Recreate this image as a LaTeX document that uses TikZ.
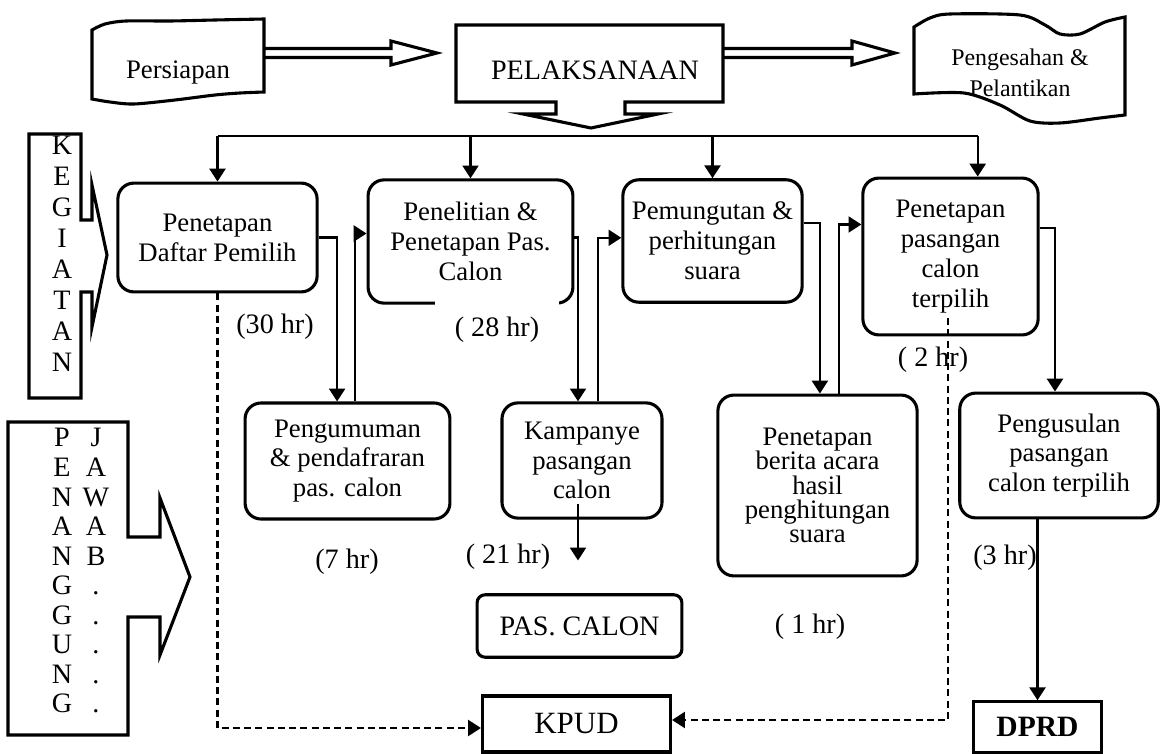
\documentclass[tikz,border=0pt]{standalone}
\usepackage{fontspec}
\setmainfont{Liberation Serif}
\usetikzlibrary{arrows.meta}
\begin{document}
\begin{tikzpicture}[x=0.0125cm,y=-0.0125cm]

\tikzstyle{bx} = [rectangle, rounded corners=0.2cm, line width=1.1pt, draw=black, align=center, inner sep=1pt, font=\fontsize{9.5}{10.6}\selectfont]
\tikzstyle{sq} = [rectangle, line width=1.1pt, draw=black, text centered]
\tikzstyle{lb} = [inner sep=1pt, font=\fontsize{10}{12}\selectfont]
\tikzstyle{shp} = [line width=1.1pt, draw=black]
\tikzstyle{arr} = [line width=0.75pt, -{Triangle[length=0.16cm,width=0.2cm]}]
\tikzstyle{dsh} = [arr, dash pattern=on 2.5pt off 1.5pt]

\useasboundingbox (0,0) rectangle (1162,754);

% top row
\draw[shp] plot[smooth] coordinates {(92,30) (105,24) (126,21) (170,21) (215,20) (264,19)} -- plot[smooth] coordinates {(264,92) (240,93) (215,95) (175,100) (134,104) (110,102) (92,99)} -- cycle;
\node (prs) at (178,73) [font=\fontsize{9.5}{11}\selectfont] {Persiapan};
\draw[shp] (264,48.5) -- (391,48.5) -- (391,41) -- (437,53) -- (391,65) -- (391,57.5) -- (264,57.5);

\draw[shp] (456,25) -- (723,25) -- (723,102) -- (625,102) -- (625,114) -- (658,114) -- (591,128) -- (523,114) -- (556,114) -- (556,102) -- (456,102) -- cycle;
\node (pel) at (595,70) [font=\fontsize{10}{12}\selectfont] {PELAKSANAAN};
\draw[shp] (723,48.5) -- (852,48.5) -- (852,41) -- (895,53) -- (852,65) -- (852,57.5) -- (723,57.5);

\draw[shp] plot[smooth] coordinates {(914,27) (930,18) (950,14) (1020,15) (1045,25) (1060,34) (1080,34) (1105,22) (1125,17)} -- plot[smooth] coordinates {(1125,115) (1100,118) (1060,123) (1030,121) (1000,105) (964,93) (914,94)} -- cycle;
\node (sah) at (1020,73) [align=center, font=\fontsize{8.5}{11}\selectfont] {Pengesahan \&\\Pelantikan};

% left side
\draw[shp] (29,134) -- (81,134) -- (81,220) -- (92,220) -- (92,185) -- (107,255) -- (92,327) -- (92,292) -- (81,292) -- (81,398) -- (29,398) -- cycle;
\node (keg) at (62,136) [anchor=north, align=center, inner sep=0pt, font=\fontsize{10}{11}\selectfont] {K\\E\\G\\I\\A\\T\\A\\N};

\draw[shp] (8,422) -- (128,422) -- (128,537) -- (160,537) -- (160,498) -- (190,577) -- (160,655) -- (160,617) -- (128,617) -- (128,735) -- (8,735) -- cycle;
\node (pen) at (62,428) [anchor=north, align=center, inner sep=0pt, font=\fontsize{10}{10.5}\selectfont] {P\\E\\N\\A\\N\\G\\G\\U\\N\\G};
\node (jwb) at (96,428) [anchor=north, align=center, inner sep=0pt, font=\fontsize{10}{10.5}\selectfont] {J\\A\\W\\A\\B\\.\\.\\.\\.\\.};

% kegiatan
\node (daftar) at (217.5,237.5) [bx, minimum width=2.49cm, minimum height=1.36cm] {Penetapan\\Daftar Pemilih};
\node (teliti) at (470.5,241.5) [bx, minimum width=2.56cm, minimum height=1.54cm] {Penelitian \&\\Penetapan Pas.\\Calon};
\node (pungut) at (712.5,241) [bx, minimum width=2.24cm, minimum height=1.53cm] {Pemungutan \&\\perhitungan\\suara};
\node (pilih) at (950.5,256.5) [bx, minimum width=2.19cm, minimum height=1.96cm] {Penetapan\\pasangan\\calon\\terpilih};
\node (umum) at (347.5,461) [bx, minimum width=2.56cm, minimum height=1.45cm] {Pengumuman\\\& pendafraran\\pas. calon};
\node (kamp) at (582,460.5) [bx, minimum width=2.0cm, minimum height=1.44cm] {Kampanye\\pasangan\\calon};
\node (berita) at (817.5,485.5) [bx, minimum width=2.49cm, minimum height=2.26cm, font={\fontsize{9.5}{8.6}\selectfont\lineskiplimit=-5pt}] {Penetapan\\berita acara\\hasil\\penghitungan\\suara};
\node (usul) at (1059,455.5) [bx, minimum width=2.48cm, minimum height=1.56cm] {Pengusulan\\pasangan\\calon terpilih};
\node (pascalon) at (579.5,626) [bx, rounded corners=0.1cm, minimum width=2.56cm, minimum height=0.78cm, font=\fontsize{10}{12}\selectfont] {PAS. CALON};
\node (kpud) at (576.5,724) [sq, minimum width=2.35cm, minimum height=0.7cm, font=\fontsize{11}{13}\selectfont] {KPUD};
\node (dprd) at (1037.5,727) [sq, minimum width=1.59cm, minimum height=0.63cm, font=\bfseries\fontsize{10.5}{12}\selectfont] {DPRD};

% lama waktu
\node (l30) at (275,327) [lb] {(30 hr)};
\node (l28) at (497,330) [lb, fill=white, minimum width=1.56cm, minimum height=0.76cm] {( 28 hr)};
\node (l2) at (933,360) [lb] {( 2 hr)};
\node (l7) at (347,562) [lb] {(7 hr)};
\node (l21) at (508,557) [lb] {( 21 hr)};
\node (l1) at (810,627) [lb] {( 1 hr)};
\node (l3) at (1005,558) [lb] {(3 hr)};

% garis
\coordinate (bus) at (0,136);
\coordinate (pin) at ([xshift=0.34cm]pilih.north);
\draw[line width=0.75pt] (daftar.north |- bus) -- (pin |- bus);
\draw[arr] (daftar.north |- bus) -- (daftar.north);
\draw[arr] (teliti.north |- bus) -- (teliti.north);
\draw[arr] (pungut.north |- bus) -- (pungut.north);
\draw[arr] (pin |- bus) -- (pin);

\draw[arr] (daftar.east) -| ([xshift=-0.13cm]umum.north);
\draw[arr] ([xshift=0.09cm]umum.north) |- ([yshift=0.1cm]teliti.west);
\draw[arr] ([yshift=0.05cm]teliti.east) -| ([xshift=-0.05cm]kamp.north);
\draw[arr] ([xshift=0.2cm]kamp.north) |- ([yshift=0.04cm]pungut.west);
\draw[arr] ([yshift=0.22cm]pungut.east) -| ([xshift=0.03cm]berita.north);
\draw[arr] ([xshift=0.27cm]berita.north) |- ([yshift=0.4cm]pilih.west);
\draw[arr] ([yshift=0.36cm]pilih.east) -| ([xshift=-0.05cm]usul.north);
\draw[arr] (usul.south -| dprd.north) -- (dprd.north);

\coordinate (pcend) at ([yshift=0.41cm]pascalon.north);
\draw[arr] ([xshift=-0.05cm,yshift=0.19cm]kamp.south) -- ([xshift=-0.05cm]kamp.south |- pcend);

\draw[dsh] (daftar.south) |- ([yshift=-0.05cm]kpud.west);
\draw[dsh] ([xshift=-0.03cm,yshift=0.23cm]pilih.south) |- ([yshift=0.05cm]kpud.east);
\end{tikzpicture}
\end{document}
